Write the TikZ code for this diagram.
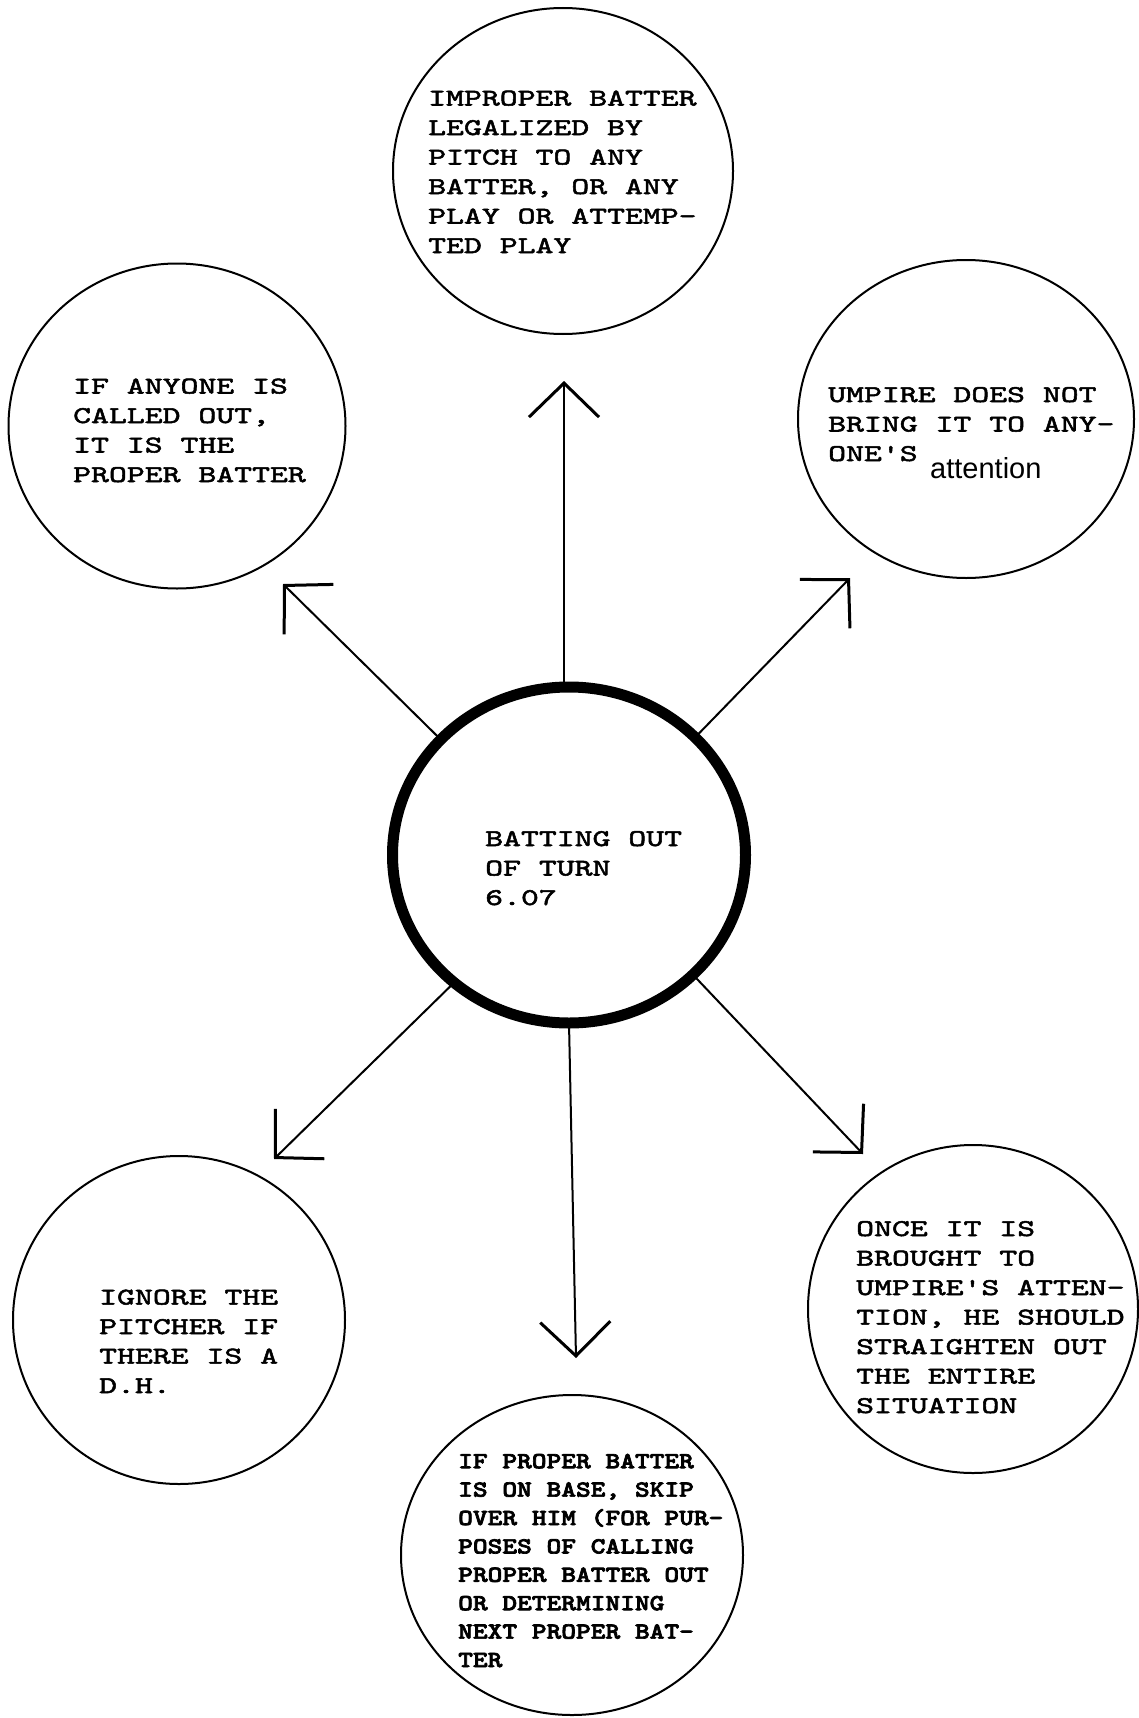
\documentclass[tikz,border=0pt]{standalone}
\usepackage{fontspec}
\usetikzlibrary{arrows.meta,shapes.geometric}
\newfontfamily\twfont{lmmono10-regular.otf}[FakeStretch=1.42,FakeBold=2.2,Ligatures=TeXOff]
\newfontfamily\twbfont{lmmonolt10-bold.otf}[FakeStretch=1.22,FakeBold=3,Ligatures=TeXOff]
\newfontfamily\arfont{Liberation Sans}
\begin{document}
\begin{tikzpicture}[x=1pt,y=-1pt,
  oval/.style={draw, ellipse, line width=2pt, inner sep=0pt, outer sep=0pt},
  hub/.style={draw, ellipse, line width=11pt, inner sep=0pt, outer sep=0pt},
  txt/.style={anchor=base west, align=left, inner sep=0pt, font=\twfont\fontsize{24}{29.5}\selectfont},
  txtb/.style={anchor=base west, align=left, inner sep=0pt, font=\twbfont\fontsize{23}{28.4}\selectfont},
  sans/.style={anchor=base west, inner sep=0pt, font=\arfont\fontsize{29}{30}\selectfont},
  arr/.style={line width=2pt, -{Straight Barb[length=34pt,width=70pt,line width=3pt]}}]
\useasboundingbox (0,0) rectangle (1139,1718);
\fill[white] (0,0) rectangle (1139,1718);

% circles
\node[hub, minimum width=353pt, minimum height=336pt] (c) at (569,855) {};
\node[oval, minimum width=340pt, minimum height=326pt] (top) at (563,171) {};
\node[oval, minimum width=337pt, minimum height=325pt] (tl) at (177,426) {};
\node[oval, minimum width=336pt, minimum height=318pt] (tr) at (966,419) {};
\node[oval, minimum width=332pt, minimum height=328pt] (bl) at (179,1320) {};
\node[oval, minimum width=330pt, minimum height=328pt] (br) at (973,1309) {};
\node[oval, minimum width=342pt, minimum height=320pt] (bot) at (572,1555) {};

% arrow tips
\coordinate (tN) at (564,381);
\coordinate (tNW) at (283,584);
\coordinate (tNE) at (850,578);
\coordinate (tSW) at (274,1159);
\coordinate (tSE) at (863,1154);
\coordinate (tS) at (576,1358);

\draw[arr] (c.north -| tN) -- (tN);
\draw[arr] (c.138.6) -- (tNW);
\draw[arr] (c.43.7) -- (tNE);
\draw[arr] (c.228.7) -- (tSW);
\draw[arr] (c.316.4) -- (tSE);
\draw[arr] (c.south) -- (tS);

% texts (anchored at the baseline of their last line)
\node[txt] (tT) at (428,253) {IMPROPER BATTER\\LEGALIZED BY\\PITCH TO ANY\\BATTER, OR ANY\\PLAY OR ATTEMP-\\TED PLAY};
\node[txt] (tTL) at (73,482) {IF ANYONE IS\\CALLED OUT,\\IT IS THE\\PROPER BATTER};
\node[txt] (tTR) at (828,461) {UMPIRE DOES NOT\\BRING IT TO ANY-\\ONE'S};
\node[sans] (att) at (930,478) {attention};
\node[txt] (tC) at (485,905) {BATTING OUT\\OF TURN\\6.07};
\node[txt] (tBL) at (99,1393) {IGNORE THE\\PITCHER IF\\THERE IS A\\D.H.};
\node[txt] (tBR) at (856,1413) {ONCE IT IS\\BROUGHT TO\\UMPIRE'S ATTEN-\\TION, HE SHOULD\\STRAIGHTEN OUT\\THE ENTIRE\\SITUATION};
\node[txtb] (tB) at (458,1667) {IF PROPER BATTER\\IS ON BASE, SKIP\\OVER HIM (FOR PUR-\\POSES OF CALLING\\PROPER BATTER OUT\\OR DETERMINING\\NEXT PROPER BAT-\\TER};
\end{tikzpicture}
\end{document}
